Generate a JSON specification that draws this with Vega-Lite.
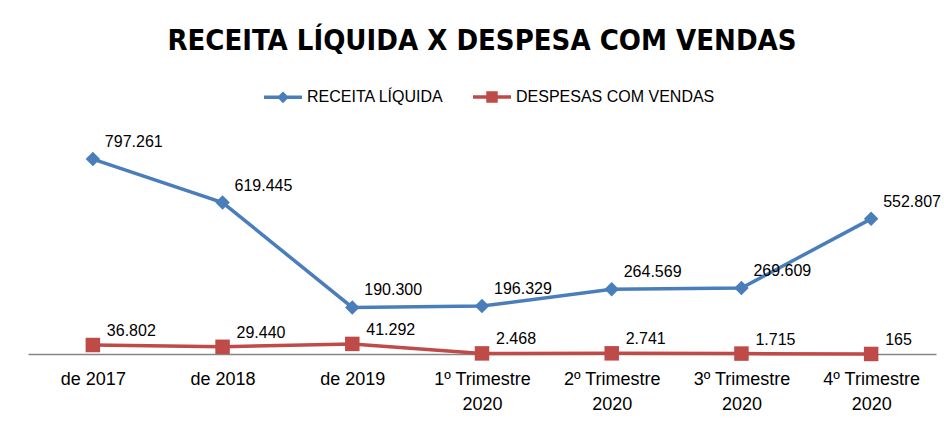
{
  "$schema": "https://vega.github.io/schema/vega-lite/v6.json",
  "width": 908,
  "height": 220,
  "autosize": "none",
  "padding": {"left": 28, "top": 134, "right": 8, "bottom": 69},
  "background": "white",
  "config": {
    "view": {"stroke": null},
    "locale": {"number": {"decimal": ",", "thousands": ".", "grouping": [3], "currency": ["R$ ", ""]}}
  },
  "title": {
    "text": "RECEITA LÍQUIDA X DESPESA COM VENDAS",
    "font": "'DejaVu Sans Condensed', 'DejaVu Sans', sans-serif",
    "fontSize": 29,
    "fontWeight": "bold",
    "color": "#000000",
    "anchor": "middle",
    "offset": 20
  },
  "data": {
    "values": [
      {"periodo": "de 2017", "serie": "RECEITA LÍQUIDA", "valor": 797261},
      {"periodo": "de 2018", "serie": "RECEITA LÍQUIDA", "valor": 619445},
      {"periodo": "de 2019", "serie": "RECEITA LÍQUIDA", "valor": 190300},
      {"periodo": "1º Trimestre 2020", "serie": "RECEITA LÍQUIDA", "valor": 196329},
      {"periodo": "2º Trimestre 2020", "serie": "RECEITA LÍQUIDA", "valor": 264569},
      {"periodo": "3º Trimestre 2020", "serie": "RECEITA LÍQUIDA", "valor": 269609},
      {"periodo": "4º Trimestre 2020", "serie": "RECEITA LÍQUIDA", "valor": 552807},
      {"periodo": "de 2017", "serie": "DESPESAS COM VENDAS", "valor": 36802},
      {"periodo": "de 2018", "serie": "DESPESAS COM VENDAS", "valor": 29440},
      {"periodo": "de 2019", "serie": "DESPESAS COM VENDAS", "valor": 41292},
      {"periodo": "1º Trimestre 2020", "serie": "DESPESAS COM VENDAS", "valor": 2468},
      {"periodo": "2º Trimestre 2020", "serie": "DESPESAS COM VENDAS", "valor": 2741},
      {"periodo": "3º Trimestre 2020", "serie": "DESPESAS COM VENDAS", "valor": 1715},
      {"periodo": "4º Trimestre 2020", "serie": "DESPESAS COM VENDAS", "valor": 165}
    ]
  },
  "encoding": {
    "x": {
      "field": "periodo",
      "type": "nominal",
      "sort": null,
      "scale": {"padding": 0.5},
      "axis": {
        "title": null,
        "labelAngle": 0,
        "labelFont": "Liberation Sans",
        "labelFontSize": 18,
        "labelColor": "#000000",
        "labelLineHeight": 25,
        "labelPadding": 16,
        "labelExpr": "indexof(datum.label, 'Trimestre') >= 0 ? [substring(datum.label, 0, 12), '2020'] : datum.label",
        "ticks": false,
        "domainColor": "#868686",
        "domainWidth": 1.5,
        "grid": false
      }
    },
    "y": {
      "field": "valor",
      "type": "quantitative",
      "scale": {"domain": [0, 900000], "nice": false},
      "axis": null
    }
  },
  "layer": [
    {
      "mark": {"type": "line", "strokeWidth": 3.5},
      "encoding": {
        "color": {
          "field": "serie",
          "type": "nominal",
          "scale": {"domain": ["RECEITA LÍQUIDA", "DESPESAS COM VENDAS"], "range": ["#4A7EBB", "#BE4B48"]},
          "legend": {
            "title": null,
            "orient": "none",
            "legendX": 234,
            "legendY": -58,
            "direction": "horizontal",
            "labelFont": "Liberation Sans",
            "labelFontSize": 16,
            "labelColor": "#000000",
            "labelOffset": 3,
            "labelLimit": 400,
            "columnPadding": 22,
            "symbolSize": 1444,
            "symbolStrokeWidth": 3.5,
            "encode": {
              "symbols": {
                "update": {
                  "shape": {"signal": "datum.value === 'RECEITA LÍQUIDA' ? 'M-1,0H1M0,-0.18L0.18,0L0,0.18L-0.18,0Z' : 'M-1,0H1M-0.21,-0.21H0.21V0.21H-0.21Z'"},
                  "fill": {"signal": "datum.value === 'RECEITA LÍQUIDA' ? '#4A7EBB' : '#BE4B48'"},
                  "stroke": {"signal": "datum.value === 'RECEITA LÍQUIDA' ? '#4A7EBB' : '#BE4B48'"},
                  "strokeWidth": {"value": 3.5},
                  "opacity": {"value": 1}
                }
              }
            }
          }
        }
      }
    },
    {
      "transform": [{"filter": "datum.serie === 'RECEITA LÍQUIDA'"}],
      "mark": {"type": "point", "shape": "diamond", "filled": true, "opacity": 1, "size": 210, "color": "#4A7EBB"}
    },
    {
      "transform": [{"filter": "datum.serie === 'DESPESAS COM VENDAS'"}],
      "mark": {"type": "point", "shape": "square", "filled": true, "opacity": 1, "size": 210, "color": "#BE4B48"}
    },
    {
      "transform": [{"filter": "datum.serie === 'RECEITA LÍQUIDA'"}],
      "mark": {"type": "text", "align": "left", "baseline": "bottom", "dx": 12, "dy": -9, "font": "Liberation Sans", "fontSize": 16, "color": "#000000"},
      "encoding": {"text": {"field": "valor", "type": "quantitative", "format": ",d"}}
    },
    {
      "transform": [{"filter": "datum.serie === 'DESPESAS COM VENDAS'"}],
      "mark": {"type": "text", "align": "left", "baseline": "bottom", "dx": 14, "dy": -6, "font": "Liberation Sans", "fontSize": 16, "color": "#000000"},
      "encoding": {"text": {"field": "valor", "type": "quantitative", "format": ",d"}}
    }
  ]
}
